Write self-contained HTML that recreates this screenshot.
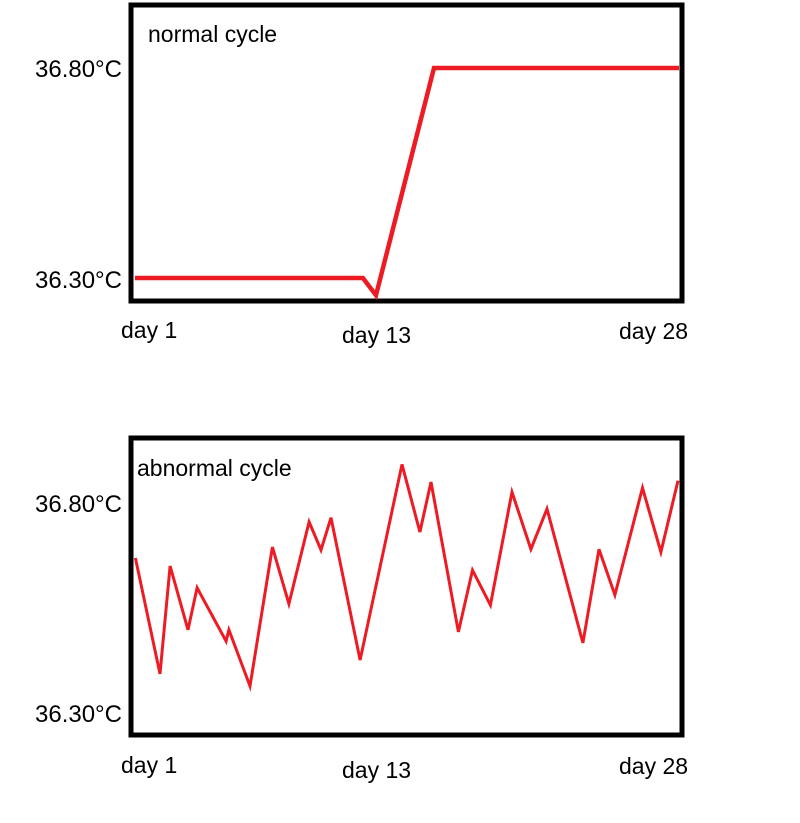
<!DOCTYPE html>
<html><head><meta charset="utf-8"><style>
html,body{margin:0;padding:0;background:#fff;}
svg{display:block;font-family:"Liberation Sans",Arial,sans-serif;}
</style></head><body>
<svg id="svg" width="800" height="823" viewBox="0 0 800 823">
<g id="top">
<rect x="131" y="5" width="551" height="296" fill="none" stroke="#000" stroke-width="5"/>
<text x="148" y="42" font-size="23">normal cycle</text>
<text x="122" y="77" font-size="24" text-anchor="end">36.80°C</text>
<text x="122" y="288" font-size="24" text-anchor="end">36.30°C</text>
<text x="121" y="338" font-size="23">day 1</text>
<text x="342" y="343" font-size="23">day 13</text>
<text x="619" y="339" font-size="23">day 28</text>
</g>
<g id="bot">
<rect x="131" y="438" width="551" height="297" fill="none" stroke="#000" stroke-width="5"/>
<text x="137" y="476" font-size="23">abnormal cycle</text>
<text x="122" y="512" font-size="24" text-anchor="end">36.80°C</text>
<text x="122" y="722" font-size="24" text-anchor="end">36.30°C</text>
<text x="121" y="773" font-size="23">day 1</text>
<text x="342" y="778" font-size="23">day 13</text>
<text x="619" y="774" font-size="23">day 28</text>
</g>
</svg>
<script>
const normalDays = [1, 12.31, 12.96, 15.84, 28];
const normalTemps = [36.30, 36.30, 36.259, 36.80, 36.80];
const abnormalDays = [1.02,2.24,2.74,3.63,4.08,5.52,5.66,6.71,7.82,8.64,9.64,10.23,10.73,12.17,14.25,15.14,15.69,17.05,17.75,18.64,19.71,20.65,21.45,23.23,24.03,24.82,26.19,27.10,27.95];
const abnormalTemps = [36.669,36.393,36.650,36.498,36.598,36.471,36.498,36.364,36.695,36.560,36.755,36.688,36.765,36.426,36.892,36.731,36.850,36.493,36.640,36.557,36.826,36.690,36.786,36.467,36.690,36.581,36.836,36.683,36.853];
function xScale(d){ return 135 + (d - 1) * (679 - 135) / 27; }
function yScaleTop(t){ return 278 - (t - 36.30) * 420; }
function yScaleBot(t){ return 713 - (t - 36.30) * 420; }
const NS = "http://www.w3.org/2000/svg";
function drawLine(group, days, temps, ys, width, name){
  const pts = days.map((d,i)=> xScale(d).toFixed(1)+","+ys(temps[i]).toFixed(1)).join(" ");
  const pl = document.createElementNS(NS, "polyline");
  pl.setAttribute("points", pts);
  pl.setAttribute("fill", "none");
  pl.setAttribute("stroke", "#ed1c24");
  pl.setAttribute("stroke-width", width);
  pl.setAttribute("stroke-linejoin", "miter");
  
  
  document.getElementById(group).appendChild(pl);
}
drawLine("top", normalDays, normalTemps, yScaleTop, 4.5, "normal-temperature-line");
drawLine("bot", abnormalDays, abnormalTemps, yScaleBot, 3, "abnormal-temperature-line");
</script>
</body></html>
